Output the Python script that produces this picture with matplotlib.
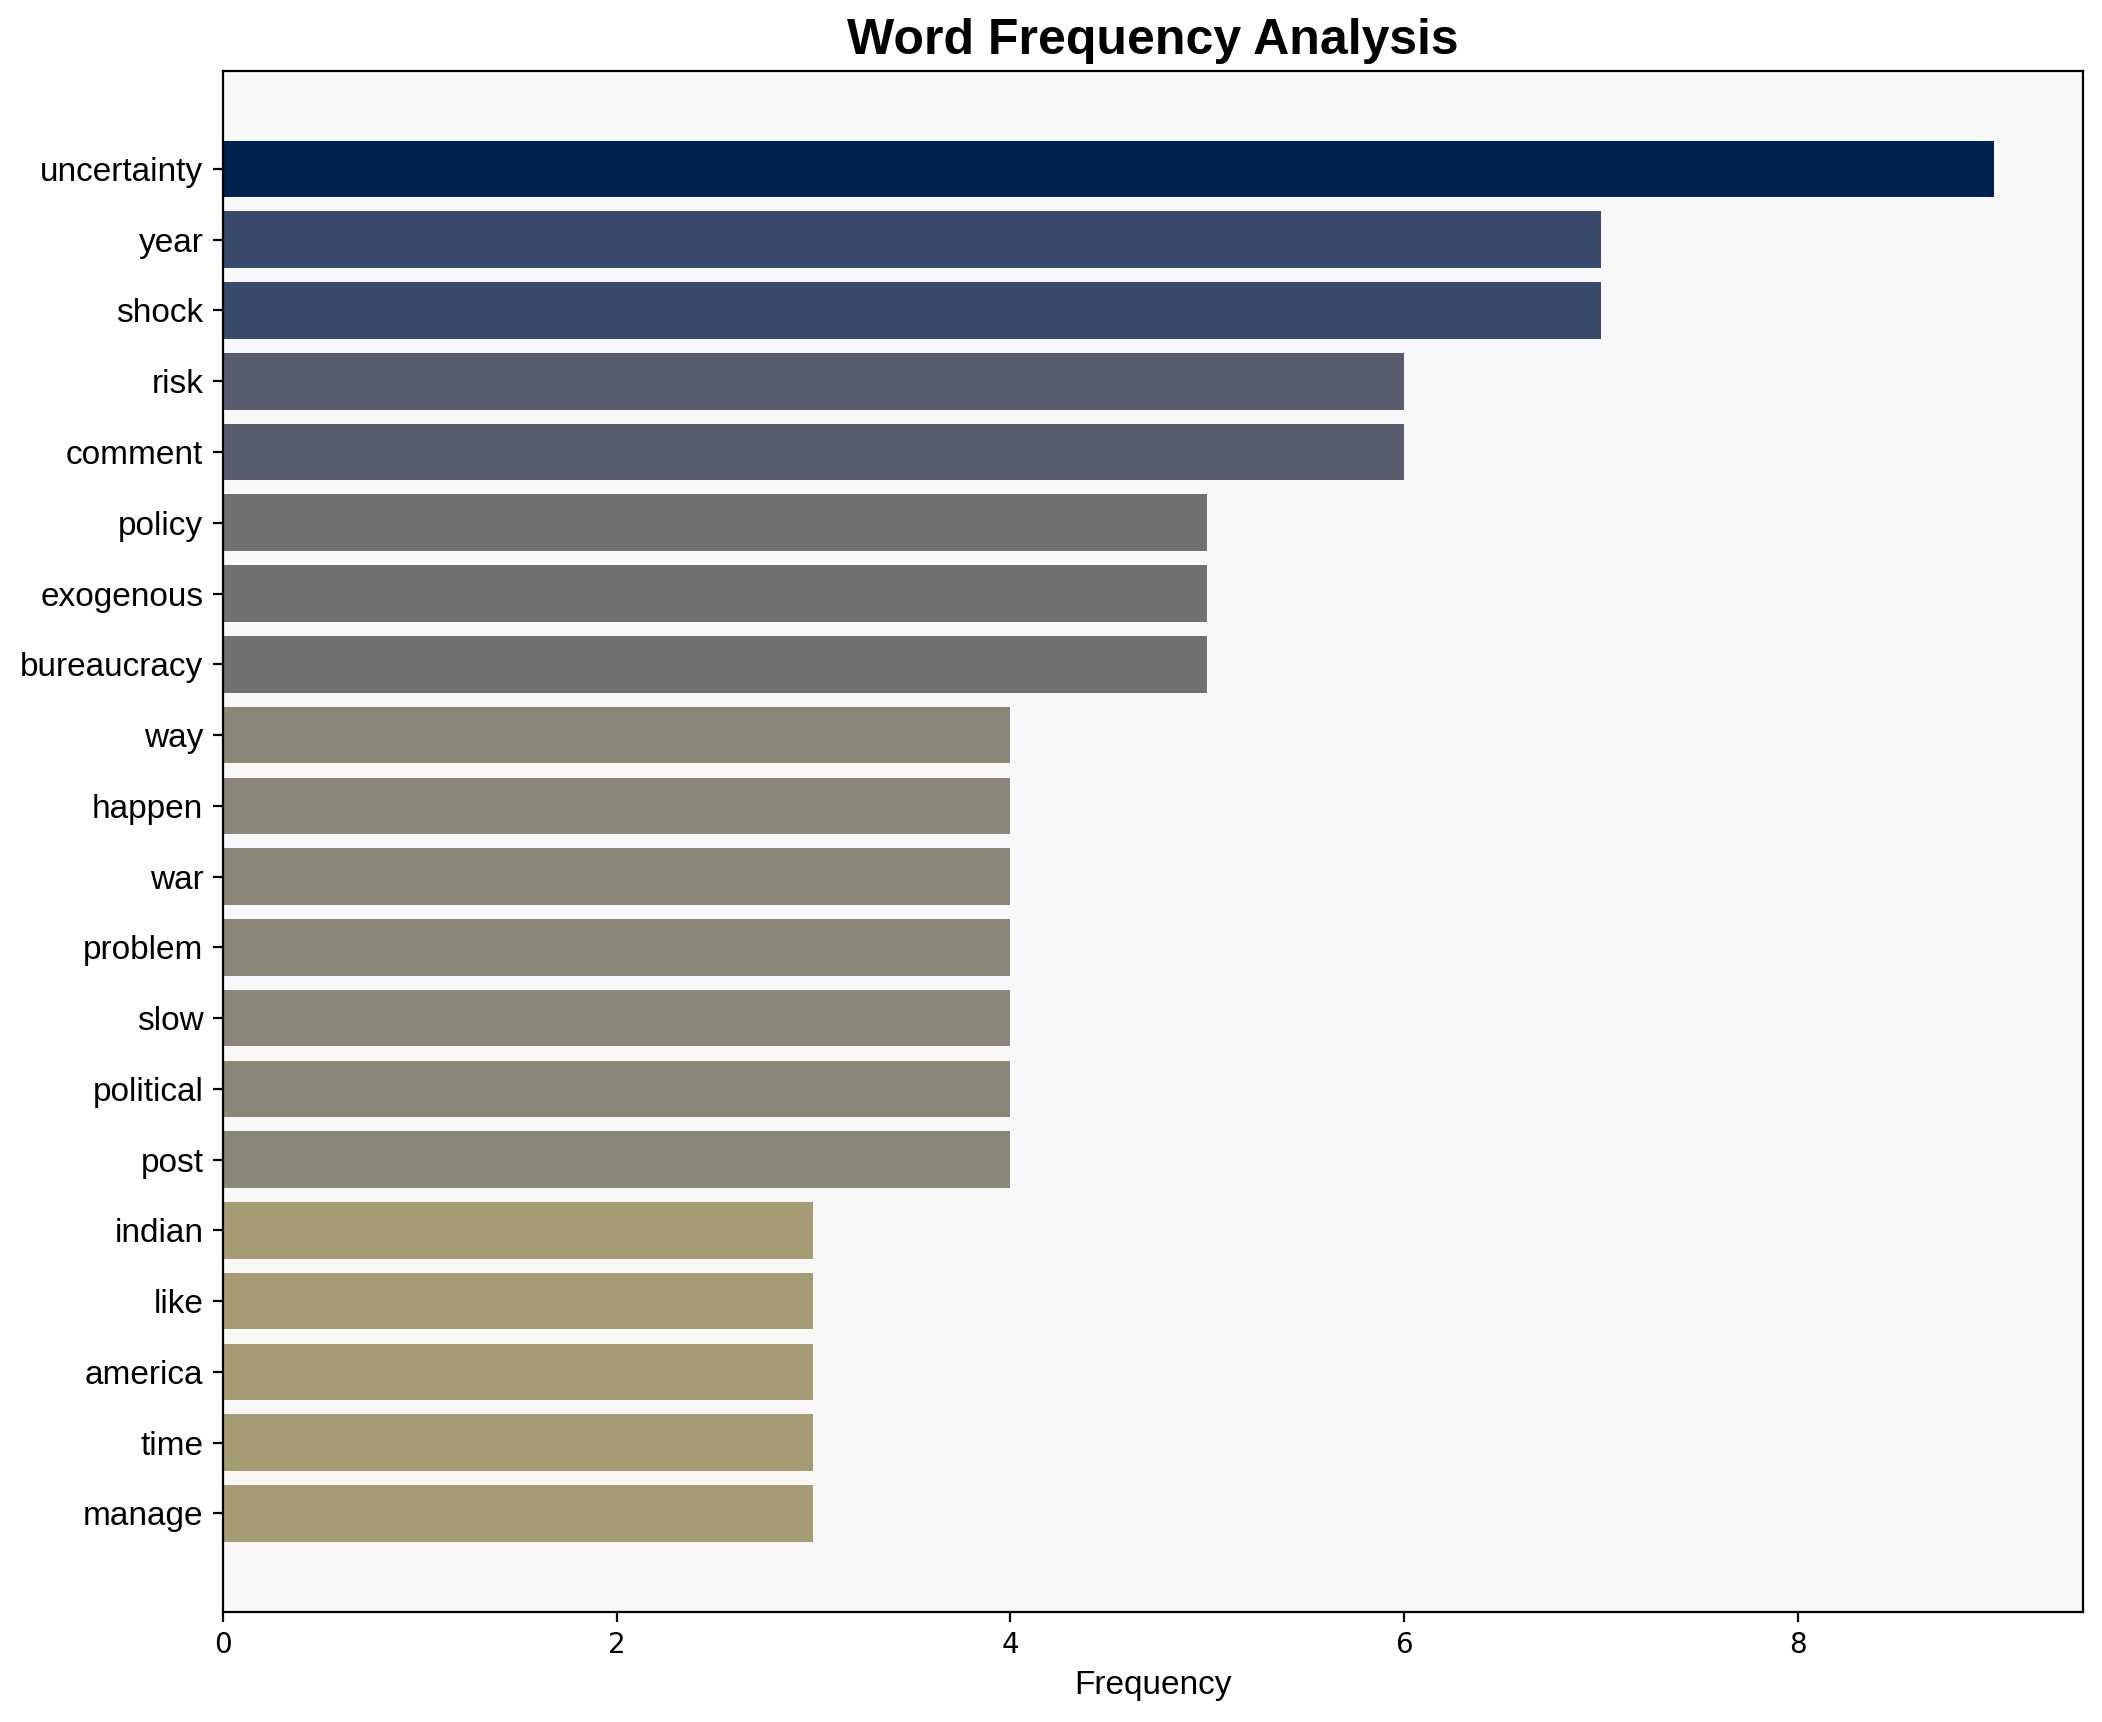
import matplotlib
matplotlib.use("Agg")
import matplotlib.pyplot as plt
import numpy as np

plt.rcParams['font.family'] = ['Liberation Sans', 'DejaVu Sans']

words = ["uncertainty", "year", "shock", "risk", "comment", "policy", "exogenous",
         "bureaucracy", "way", "happen", "war", "problem", "slow", "political",
         "post", "indian", "like", "america", "time", "manage"]
counts = [9, 7, 7, 6, 6, 5, 5, 5, 4, 4, 4, 4, 4, 4, 4, 3, 3, 3, 3, 3]

fig = plt.figure(figsize=(2102 / 200, 1722 / 200), dpi=200)
ax = fig.add_axes([0.106, 0.064, 0.885, 0.895])
ax.set_facecolor('#f8f8f8')

vals = np.array(counts)
colors = plt.cm.cividis(1 - vals / vals.max())
y = np.arange(len(words))
ax.barh(y, vals, height=0.8, color=colors)
ax.set_yticks(y)
ax.set_yticklabels(words, fontsize=12)
ax.invert_yaxis()
ax.tick_params(axis='x', labelsize=10)
for lbl in ax.get_xticklabels():
    lbl.set_family('DejaVu Sans')
ax.set_xlabel("Frequency", fontsize=12)
ax.set_title("Word Frequency Analysis", fontsize=18, fontweight='bold')

fig.savefig("out.png", dpi=200)
